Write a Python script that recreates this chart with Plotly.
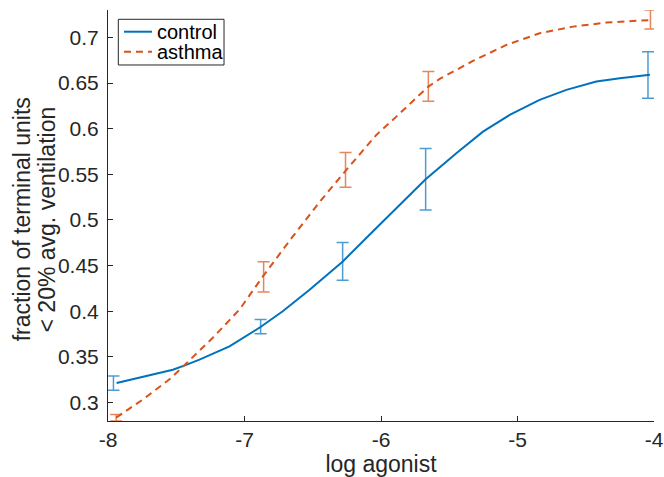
import plotly.graph_objects as go

# ---- data ----
control_x = [-7.937, -7.72, -7.525, -7.432, -7.33, -7.11, -6.88, -6.72, -6.523, -6.353,
             -6.28, -6.06, -5.888, -5.673, -5.448, -5.253, -5.057, -4.838, -4.642,
             -4.422, -4.25, -4.03]
control_y = [0.3215, 0.3288, 0.336, 0.341, 0.347, 0.3616, 0.383, 0.400, 0.4236, 0.4453,
             0.4546, 0.4874, 0.5128, 0.5447, 0.5732, 0.5968, 0.6151, 0.6315, 0.6425,
             0.6516, 0.6553, 0.659]

asthma_x = [-7.94, -7.745, -7.537, -7.432, -7.232, -7.036, -6.865, -6.646, -6.437, -6.254,
            -6.034, -5.888, -5.653, -5.57, -5.327, -5.082, -4.838, -4.594, -4.349, -4.105,
            -4.026]
asthma_y = [0.2835, 0.3033, 0.327, 0.3423, 0.371, 0.402, 0.4382, 0.482, 0.5221, 0.5549,
            0.5932, 0.6132, 0.6461, 0.6545, 0.6742, 0.6917, 0.7045, 0.7118, 0.7162, 0.7183,
            0.719]

control_err_x = [-7.96, -6.882, -6.281, -5.673, -4.044]
control_err_y = [0.3213, 0.3832, 0.4546, 0.5447, 0.6589]
control_err = [0.0078, 0.0078, 0.0206, 0.0337, 0.0255]

asthma_err_x = [-7.94, -6.86, -6.26, -5.653, -4.026]
asthma_err_y = [0.2833, 0.4377, 0.5549, 0.6463, 0.7196]
asthma_err = [0.0035, 0.0166, 0.019, 0.0162, 0.0104]

x_ticks = [-8, -7, -6, -5, -4]
y_ticks = [0.3, 0.35, 0.4, 0.45, 0.5, 0.55, 0.6, 0.65, 0.7]
y_tick_text = ["0.3", "0.35", "0.4", "0.45", "0.5", "0.55", "0.6", "0.65", "0.7"]
y_title_lines = ["fraction of terminal units", "< 20% avg. ventilation"]
legend_names = ["control", "asthma"]

BLUE = "#0072BD"
ORANGE = "#D95319"
FONT = "Liberation Sans, Arial, sans-serif"
AX = "#262626"
DASH = "7px,5px"

fig = go.Figure()

fig.add_trace(go.Scatter(
    x=control_err_x, y=control_err_y, mode="markers",
    marker=dict(size=1, color="rgba(0,0,0,0)"),
    error_y=dict(type="data", array=control_err, visible=True,
                 color="rgba(0,114,189,0.7)", thickness=1.5, width=6),
    showlegend=False, hoverinfo="skip"))
fig.add_trace(go.Scatter(
    x=asthma_err_x, y=asthma_err_y, mode="markers",
    marker=dict(size=1, color="rgba(0,0,0,0)"),
    error_y=dict(type="data", array=asthma_err, visible=True,
                 color="rgba(217,83,25,0.7)", thickness=1.5, width=6),
    showlegend=False, hoverinfo="skip"))

fig.add_trace(go.Scatter(x=control_x, y=control_y, mode="lines", name=legend_names[0],
                         line=dict(color=BLUE, width=2), showlegend=False))
fig.add_trace(go.Scatter(x=asthma_x, y=asthma_y, mode="lines", name=legend_names[1],
                         line=dict(color=ORANGE, width=2, dash=DASH), showlegend=False))

fig.update_layout(
    width=664, height=477,
    margin=dict(l=108, r=10, t=10, b=56, autoexpand=False),
    paper_bgcolor="white", plot_bgcolor="white",
    font=dict(family=FONT, color=AX),
    showlegend=False,
)

# MATLAB-style compact legend box (paper coordinates)
fig.add_shape(type="rect", xref="paper", yref="paper",
              x0=0.0189, x1=0.2125, y0=0.8662, y1=0.9774,
              line=dict(color=AX, width=1), fillcolor="white", layer="above")
for name, color, dash, ypos in zip(legend_names, [BLUE, ORANGE], ["solid", DASH],
                                   [0.9472, 0.8985]):
    fig.add_shape(type="line", xref="paper", yref="paper",
                  x0=0.0293, x1=0.0806, y0=ypos, y1=ypos,
                  line=dict(color=color, width=2, dash=dash), layer="above")
    fig.add_annotation(text=name, xref="paper", yref="paper", x=0.0861, y=ypos,
                       xanchor="left", yanchor="middle", showarrow=False,
                       font=dict(family=FONT, size=20, color="#000000"))

# two-line rotated y-axis title
for txt, xpos in zip(y_title_lines, [-0.158, -0.112]):
    fig.add_annotation(text=txt, xref="paper", yref="paper", x=xpos, y=0.49,
                       xanchor="center", yanchor="middle", textangle=-90,
                       showarrow=False, font=dict(family=FONT, size=23, color=AX))

fig.update_xaxes(
    range=[-8, -4], tickvals=x_ticks, ticktext=[str(v) for v in x_ticks],
    showgrid=False, zeroline=False, showline=True, linecolor=AX, linewidth=1,
    ticks="inside", ticklen=5, tickcolor=AX, tickwidth=1, automargin=False,
    tickfont=dict(family=FONT, size=21, color=AX),
    title=dict(text="log agonist", font=dict(family=FONT, size=23, color=AX), standoff=6),
)
fig.update_yaxes(
    range=[0.2798, 0.730], tickvals=y_ticks, ticktext=y_tick_text,
    showgrid=False, zeroline=False, showline=True, linecolor=AX, linewidth=1,
    ticks="inside", ticklen=5, tickcolor=AX, tickwidth=1, automargin=False,
    ticklabelstandoff=4,
    tickfont=dict(family=FONT, size=21, color=AX),
)

fig.write_html("out.html")
